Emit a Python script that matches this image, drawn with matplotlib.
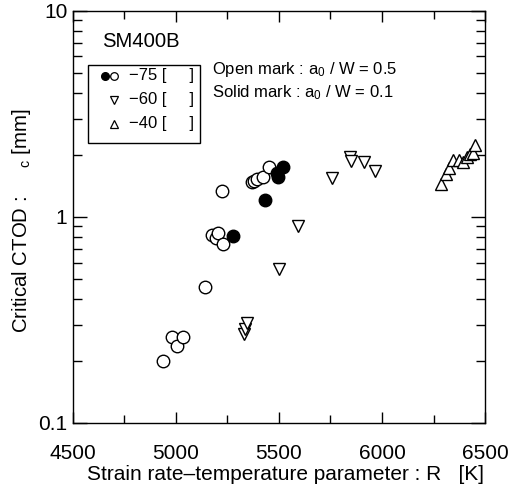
import matplotlib
matplotlib.use("Agg")
import matplotlib.pyplot as plt
from matplotlib.ticker import FixedLocator, LogLocator, NullFormatter, FixedFormatter
from matplotlib.patches import Rectangle

plt.rcParams['font.family'] = ['Liberation Sans', 'DejaVu Sans']
plt.rcParams['mathtext.default'] = 'regular'

# -75 deg, open marks (a0/W = 0.5)
open75_x = [4935, 4979, 5006, 5035, 5141, 5173, 5194, 5202, 5227, 5225,
            5367, 5378, 5395, 5424, 5453]
open75_y = [0.20, 0.26, 0.235, 0.26, 0.454, 0.82, 0.79, 0.83, 0.74, 1.34,
            1.47, 1.50, 1.53, 1.56, 1.75]
# -75 deg, solid marks (a0/W = 0.1)
solid75_x = [5278, 5432, 5489, 5497, 5521]
solid75_y = [0.81, 1.21, 1.64, 1.56, 1.74]
# -60 deg
tri60_x = [5330, 5335, 5346, 5500, 5592, 5757, 5845, 5850, 5912, 5966]
tri60_y = [0.27, 0.285, 0.305, 0.557, 0.90, 1.55, 1.95, 1.87, 1.85, 1.67]
# -40 deg
tri40_x = [6285, 6312, 6325, 6345, 6372, 6392, 6412, 6425, 6440, 6450]
tri40_y = [1.44, 1.62, 1.72, 1.88, 1.88, 1.84, 1.95, 2.02, 2.04, 2.22]

xticks = [4500, 5000, 5500, 6000, 6500]
yticks = [0.1, 1, 10]
ytick_labels = ['0.1', '1', '10']

fig = plt.figure(figsize=(5.1, 4.9), dpi=100)
ax = fig.add_axes([0.143, 0.137, 0.808, 0.841])

ms = 9
ax.plot(open75_x, open75_y, 'o', ms=ms, mfc='white', mec='black', mew=1.0, ls='none', zorder=3)
ax.plot(solid75_x, solid75_y, 'o', ms=ms, mfc='black', mec='black', mew=1.0, ls='none', zorder=4)
ax.plot(tri60_x, tri60_y, 'v', ms=ms, mfc='white', mec='black', mew=1.0, ls='none', zorder=3)
ax.plot(tri40_x, tri40_y, '^', ms=ms, mfc='white', mec='black', mew=1.0, ls='none', zorder=3)

ax.set_xlim(4500, 6500)
ax.set_yscale('log')
ax.set_ylim(0.1, 10)
ax.xaxis.set_major_locator(FixedLocator(xticks))
ax.xaxis.set_minor_locator(FixedLocator([4750, 5250, 5750, 6250]))
ax.yaxis.set_major_locator(FixedLocator(yticks))
ax.yaxis.set_major_formatter(FixedFormatter(ytick_labels))
ax.yaxis.set_minor_locator(LogLocator(base=10, subs=range(2, 10)))
ax.yaxis.set_minor_formatter(NullFormatter())

ax.tick_params(which='both', direction='in', top=True, right=True, width=1.0,
               labelsize=15, colors='black')
ax.tick_params(axis='x', which='major', length=8, pad=15)
ax.tick_params(axis='x', which='minor', length=5.5)
ax.tick_params(axis='y', which='major', length=10, pad=4)
ax.tick_params(axis='y', which='minor', length=6.5)
for s in ax.spines.values():
    s.set_linewidth(1.0)

ax.set_xlabel('Strain rate\u2013temperature parameter : R   [K]', fontsize=15)
ax.xaxis.set_label_coords((286 - 73) / 412, -(475 - 423) / 412)
ax.xaxis.label.set_va('center')
ax.set_ylabel('Critical CTOD :     $_{c}$ [mm]', fontsize=14.7)
ax.yaxis.set_label_coords(-(73 - 22) / 412, 0.49)
ax.yaxis.label.set_va('center')

ax.text(0.070, (423 - 42) / 412, 'SM400B', transform=ax.transAxes, fontsize=14.6, va='center', ha='left')
ax.text(0.338, (423 - 70) / 412, 'Open mark : a$_0$ / W = 0.5', transform=ax.transAxes, fontsize=12, va='center')
ax.text(0.338, (423 - 93) / 412, 'Solid mark : a$_0$ / W = 0.1', transform=ax.transAxes, fontsize=12, va='center')

# legend box
bx0, by0 = (88 - 73) / 412, (423 - 143) / 412
bw, bh = (200 - 88) / 412, (143 - 65) / 412
ax.add_patch(Rectangle((bx0, by0), bw, bh, transform=ax.transAxes, fill=False,
                       lw=1.0, ec='black', zorder=5))
rows = [(423 - 76) / 412, (423 - 100) / 412, (423 - 124) / 412]
lm = 5.5
ax.plot([(105 - 73) / 412], [rows[0]], 'o', ms=lm, mfc='black', mec='black', transform=ax.transAxes, clip_on=False)
ax.plot([(114 - 73) / 412], [rows[0]], 'o', ms=lm, mfc='white', mec='black', mew=0.9, transform=ax.transAxes, clip_on=False)
ax.plot([(114 - 73) / 412], [rows[1]], 'v', ms=lm, mfc='white', mec='black', mew=0.9, transform=ax.transAxes, clip_on=False)
ax.plot([(114 - 73) / 412], [rows[2]], '^', ms=lm, mfc='white', mec='black', mew=0.9, transform=ax.transAxes, clip_on=False)
for r, lab in zip(rows, ['\u221275 [     ]', '\u221260 [     ]', '\u221240 [     ]']):
    ax.text((129 - 73) / 412, r, lab, transform=ax.transAxes, fontsize=12, va='center', ha='left')

fig.savefig('out.png', dpi=100)
